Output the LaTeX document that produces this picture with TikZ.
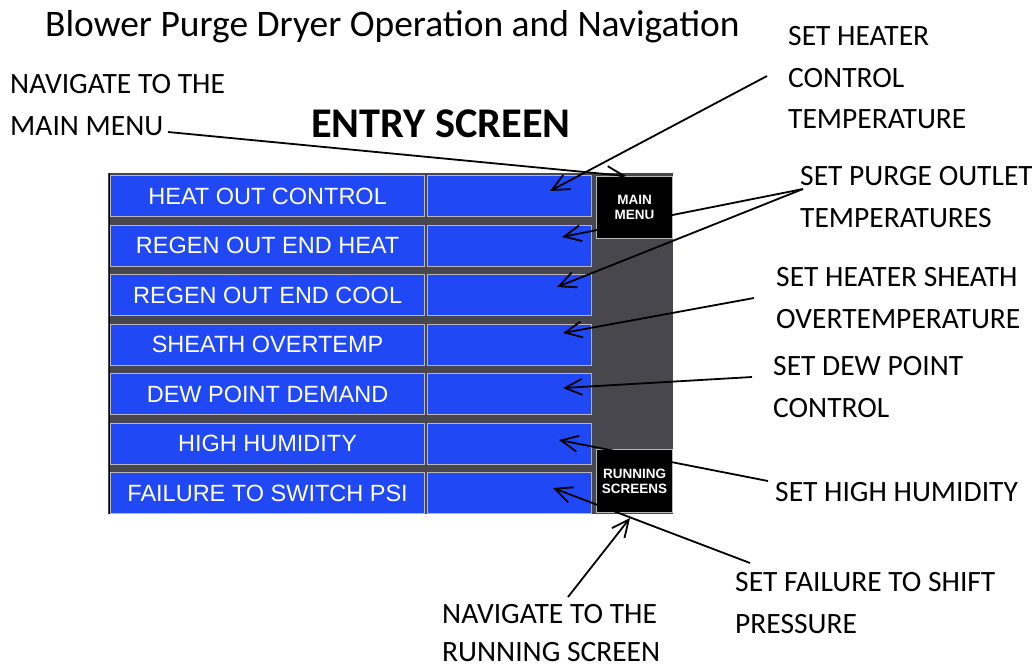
\documentclass[tikz,border=0pt]{standalone}
\usepackage{fontspec}
\setmainfont{Carlito}
\newfontfamily\btnfont{Liberation Sans}
\usetikzlibrary{arrows.meta}

\definecolor{btnblue}{RGB}{33,72,245}
\definecolor{panelgray}{RGB}{71,71,77}
\definecolor{edgelight}{RGB}{184,184,188}

\begin{document}
\begin{tikzpicture}[x=1pt,y=-1pt,
  lbl/.style={anchor=base west, inner sep=0pt, align=left,
    font=\fontsize{29.5}{41.5}\selectfont},
  btn/.style={anchor=north west, fill=btnblue, draw=edgelight, line width=1.2pt,
    minimum width=314pt, minimum height=41pt, inner sep=0pt,
    text=white, font=\btnfont\fontsize{23.5}{27}\selectfont},
  field/.style={anchor=north west, fill=btnblue, draw=edgelight, line width=1.2pt,
    minimum width=164pt, minimum height=41pt, inner sep=0pt},
  keybox/.style={anchor=north west, fill=black, draw=edgelight, line width=1.2pt,
    minimum width=76pt, inner sep=0pt, align=center, text=white,
    font=\btnfont\bfseries\fontsize{13.5}{15.5}\selectfont},
  conn/.style={draw=black, line width=1.8pt,
    -{Straight Barb[length=17pt,width=16pt]}}
]
\useasboundingbox (0,0) rectangle (1032,667);

% headings
\node[anchor=base west, inner sep=0pt, font=\fontsize{37.5}{42}\selectfont] (title)
  at (45,36) {Blower Purge Dryer Operation and Navigation};
\node[anchor=base west, inner sep=0pt, font=\bfseries\fontsize{42.3}{47}\selectfont] (entry)
  at (311,137.5) {ENTRY SCREEN};

% screen panel
\fill[panelgray] (108,173) rectangle (673,514);
\draw[black, line width=1pt] (109,173) -- (109,514);

\foreach \i/\txt in {0/HEAT OUT CONTROL, 1/REGEN OUT END HEAT,
    2/REGEN OUT END COOL, 3/SHEATH OVERTEMP, 4/DEW POINT DEMAND,
    5/HIGH HUMIDITY, 6/FAILURE TO SWITCH PSI} {
  \pgfmathsetmacro\rowy{175+49.5*\i}
  \node[btn] (lab\i) at (110,\rowy) {\txt};
  \node[field] (val\i) at (427,\rowy) {};
}

\node[keybox, minimum height=62pt] (mainmenu) at (596,176) {MAIN\\[-1pt]MENU};
\node[keybox, minimum height=63pt] (running) at (596,449) {RUNNING\\[-1pt]SCREENS};

% annotation labels (placed at the baseline of their last line)
\node[lbl] (navmain) at (10,135) {NAVIGATE TO THE\\MAIN MENU};
\node[lbl] (heater) at (788,128.5) {SET HEATER\\CONTROL\\TEMPERATURE};
\node[lbl] (purge) at (800,227) {SET PURGE OUTLET\\TEMPERATURES};
\node[lbl] (sheath) at (776,328) {SET HEATER SHEATH\\OVERTEMPERATURE};
\node[lbl] (dew) at (773,417) {SET DEW POINT\\CONTROL};
\node[lbl] (humid) at (775,501) {SET HIGH HUMIDITY};
\node[lbl] (failure) at (735,633) {SET FAILURE TO SHIFT\\PRESSURE};
\node[lbl, font=\fontsize{29.5}{38}\selectfont] (navrun) at (442,661)
  {NAVIGATE TO THE\\RUNNING SCREEN};

% connector end points
\coordinate (navmainS) at (168,132);
\coordinate (navmainT) at (626,176);
\coordinate (heaterS) at (767,76);
\coordinate (heaterT) at (550,191);
\coordinate (purgeS) at (803,189);
\coordinate (purgeTa) at (562,237);
\coordinate (purgeTb) at (557,287);
\coordinate (sheathS) at (754,298);
\coordinate (sheathT) at (563,333);
\coordinate (dewS) at (752,377);
\coordinate (dewT) at (563,388);
\coordinate (humidS) at (768,481);
\coordinate (humidT) at (559,440);
\coordinate (failureS) at (750,563);
\coordinate (failureT) at (553,488);
\coordinate (navrunS) at (568,597);
\coordinate (navrunT) at (630,518);

% connectors
\draw[conn] (navmainS) -- (navmainT);
\draw[conn] (heaterS) -- (heaterT);
\draw[conn] (purgeS) -- (purgeTa);
\draw[conn] (purgeS) -- (purgeTb);
\draw[conn] (sheathS) -- (sheathT);
\draw[conn] (dewS) -- (dewT);
\draw[conn] (humidS) -- (humidT);
\draw[conn] (failureS) -- (failureT);
\draw[conn] (navrunS) -- (navrunT);
\end{tikzpicture}
\end{document}
